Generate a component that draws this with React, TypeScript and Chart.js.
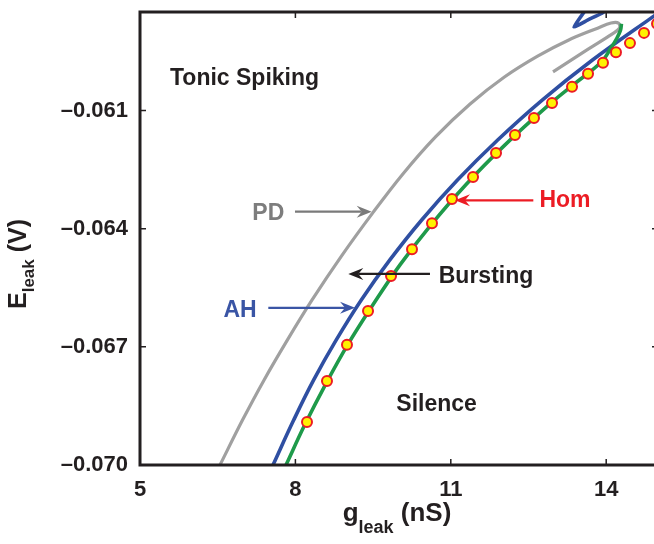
import React, { useEffect, useRef } from "react";
import { Chart, registerables } from "chart.js";

Chart.register(...registerables);

// ---- data (g_leak in nS, E_leak in V) ----
const xTicks = [5, 8, 11, 14];
const xTickLabels = ["5", "8", "11", "14"];
const yTicks = [-0.07, -0.067, -0.064, -0.061];
const yTickLabels = ["\u20130.070", "\u20130.067", "\u20130.064", "\u20130.061"];

const pdCurve: [number, number][] = [
  [6.544, -0.07], [6.979, -0.06886], [7.396, -0.06784], [7.844, -0.06683],
  [8.322, -0.06581], [8.892, -0.06469], [9.504, -0.06358], [10.075, -0.06261],
  [10.705, -0.06167], [11.367, -0.06084], [12.035, -0.06015], [12.676, -0.05962],
  [13.278, -0.05921], [13.834, -0.05891], [14.093, -0.05878], [14.237, -0.05878],
  [14.257, -0.05891], [14.112, -0.05906], [13.629, -0.05946], [12.973, -0.06002],
];

const ahCurve: [number, number][] = [
  [7.568, -0.07], [7.967, -0.06886], [8.353, -0.06784], [8.786, -0.06683],
  [9.272, -0.06581], [9.82, -0.0648], [10.438, -0.06378], [11.133, -0.06276],
  [11.905, -0.06175], [12.77, -0.06073], [13.735, -0.05972], [14.817, -0.0587],
  [15.376, -0.0582],
];

const ahFold: [number, number][] = [
  [13.649, -0.05825], [13.571, -0.0585], [13.378, -0.05888],
  [13.649, -0.0587], [13.919, -0.05853], [14.112, -0.05835],
];

const greenCurve: [number, number][] = [
  [7.819, -0.07], [8.181, -0.06898], [8.575, -0.06797], [9.008, -0.06695],
  [9.494, -0.06594], [10.019, -0.06492], [10.614, -0.06391], [11.286, -0.06289],
  [12.042, -0.06188], [12.892, -0.06086], [13.363, -0.06035], [13.905, -0.05977],
  [14.093, -0.05941], [14.208, -0.05916], [14.276, -0.05896], [14.295, -0.0588],
];

const homPoints: [number, number][] = [
  [8.224, -0.06891], [8.61, -0.06787], [8.996, -0.06695], [9.402, -0.06609],
  [9.846, -0.0652], [10.251, -0.06452], [10.637, -0.06386], [11.023, -0.06325],
  [11.429, -0.06269], [11.873, -0.06208], [12.239, -0.06162], [12.606, -0.06119],
  [12.954, -0.06081], [13.34, -0.0604], [13.649, -0.06007], [13.938, -0.05979],
  [14.189, -0.05952], [14.459, -0.05929], [14.73, -0.05903], [14.981, -0.0588],
];

// ---- styling ----
const FONT = "'Liberation Sans', Arial, Helvetica, sans-serif";
const INK = "#231f20";
const GRAY = "#a0a0a0";
const GRAY_TXT = "#7d7d7d";
const BLUE = "#2f4fa2";
const BLUE_TXT = "#3a55a5";
const GREEN = "#1e9a4a";
const RED = "#ec1c24";
const YELLOW = "#fff200";

const toXY = (a: [number, number][]) => a.map(([x, y]) => ({ x, y }));

function drawArrow(
  ctx: CanvasRenderingContext2D,
  x1: number, y1: number, x2: number, y2: number, color: string
) {
  const ang = Math.atan2(y2 - y1, x2 - x1);
  const c = Math.cos(ang), s = Math.sin(ang);
  const hl = 15, hw = 6, notch = 10;
  const bx = x2 - c * notch, by = y2 - s * notch;
  ctx.save();
  ctx.strokeStyle = color;
  ctx.fillStyle = color;
  ctx.lineWidth = 2.2;
  ctx.beginPath();
  ctx.moveTo(x1, y1);
  ctx.lineTo(bx, by);
  ctx.stroke();
  ctx.beginPath();
  ctx.moveTo(x2, y2);
  ctx.lineTo(x2 - c * hl - s * hw, y2 - s * hl + c * hw);
  ctx.lineTo(bx, by);
  ctx.lineTo(x2 - c * hl + s * hw, y2 - s * hl - c * hw);
  ctx.closePath();
  ctx.fill();
  ctx.restore();
}

// annotation positions in data units
const labels = [
  { text: "Tonic Spiking", x: 5.579, y: -0.06018, color: INK, align: "left" as CanvasTextAlign },
  { text: "Silence", x: 10.726, y: -0.06848, color: INK, align: "center" as CanvasTextAlign },
  { text: "Bursting", x: 11.68, y: -0.06523, color: INK, align: "center" as CanvasTextAlign },
  { text: "PD", x: 7.477, y: -0.06363, color: GRAY_TXT, align: "center" as CanvasTextAlign },
  { text: "AH", x: 6.931, y: -0.06609, color: BLUE_TXT, align: "center" as CanvasTextAlign },
  { text: "Hom", x: 13.205, y: -0.06328, color: RED, align: "center" as CanvasTextAlign },
];

const arrows = [
  { x1: 7.992, y1: -0.06357, x2: 9.473, y2: -0.06357, color: "#7a7a7a" },
  { x1: 7.477, y1: -0.06601, x2: 9.151, y2: -0.06601, color: BLUE_TXT },
  { x1: 10.598, y1: -0.06515, x2: 9.021, y2: -0.06515, color: INK },
  { x1: 12.593, y1: -0.06328, x2: 11.081, y2: -0.06328, color: RED },
];

const decorPlugin = {
  id: "decor",
  afterDatasetsDraw(chart: any) {
    const { ctx, chartArea: a, scales } = chart;
    const xs = scales.x, ys = scales.y;
    ctx.save();
    // frame
    ctx.strokeStyle = INK;
    ctx.lineWidth = 3;
    ctx.strokeRect(a.left, a.top, a.right - a.left, a.bottom - a.top);
    // inward ticks
    ctx.lineWidth = 1.5;
    ctx.beginPath();
    for (const v of xTicks) {
      const px = xs.getPixelForValue(v);
      ctx.moveTo(px, a.bottom); ctx.lineTo(px, a.bottom - 6);
      ctx.moveTo(px, a.top); ctx.lineTo(px, a.top + 6);
    }
    for (const v of yTicks) {
      const py = ys.getPixelForValue(v);
      ctx.moveTo(a.left, py); ctx.lineTo(a.left + 6, py);
      ctx.moveTo(a.right, py); ctx.lineTo(a.right - 6, py);
    }
    ctx.stroke();

    // text labels
    ctx.font = `bold 23px ${FONT}`;
    ctx.textBaseline = "middle";
    for (const l of labels) {
      ctx.fillStyle = l.color;
      ctx.textAlign = l.align;
      ctx.fillText(l.text, xs.getPixelForValue(l.x), ys.getPixelForValue(l.y));
    }
    for (const ar of arrows) {
      drawArrow(ctx,
        xs.getPixelForValue(ar.x1), ys.getPixelForValue(ar.y1),
        xs.getPixelForValue(ar.x2), ys.getPixelForValue(ar.y2), ar.color);
    }

    // x axis title: g_leak (nS)
    ctx.fillStyle = INK;
    ctx.textAlign = "left";
    ctx.textBaseline = "alphabetic";
    const big = `bold 26px ${FONT}`, small = `bold 18px ${FONT}`;
    ctx.font = big; const wG = ctx.measureText("g").width;
    ctx.font = small; const wL = ctx.measureText("leak").width;
    ctx.font = big; const wR = ctx.measureText(" (nS)").width;
    const total = wG + wL + wR;
    const x0 = (a.left + a.right) / 2 - total / 2 - 2;
    const base = 521;
    ctx.font = big; ctx.fillText("g", x0, base);
    ctx.font = small; ctx.fillText("leak", x0 + wG, base + 12);
    ctx.font = big; ctx.fillText(" (nS)", x0 + wG + wL, base);

    // y axis title: E_leak (V)
    const bigY = `bold 25px ${FONT}`, smallY = `bold 17px ${FONT}`;
    ctx.translate(26, 264);
    ctx.rotate(-Math.PI / 2);
    ctx.font = bigY; const wE = ctx.measureText("E").width;
    ctx.font = smallY; const wL2 = ctx.measureText("leak").width;
    ctx.font = bigY; const wV = ctx.measureText(" (V)").width;
    const t2 = wE + wL2 + wV;
    const s0 = -t2 / 2;
    ctx.font = bigY; ctx.fillText("E", s0, 0);
    ctx.font = smallY; ctx.fillText("leak", s0 + wE, 8);
    ctx.font = bigY; ctx.fillText(" (V)", s0 + wE + wL2, 0);
    ctx.restore();
  },
};

const zeroPad = (s: any) => {
  s.paddingTop = 0; s.paddingBottom = 0; s.paddingLeft = 0; s.paddingRight = 0;
};

export default function App() {
  const ref = useRef<HTMLCanvasElement | null>(null);
  useEffect(() => {
    if (!ref.current) return;
    const line = (data: [number, number][], color: string, width: number, tension = 0.4) => ({
      data: toXY(data),
      showLine: true,
      borderColor: color,
      backgroundColor: color,
      borderWidth: width,
      pointRadius: 0,
      pointHoverRadius: 0,
      tension,
      borderCapStyle: "butt" as const,
      borderJoinStyle: "round" as const,
    });
    const chart = new Chart(ref.current, {
      type: "scatter",
      data: {
        datasets: [
          {
            label: "Hom",
            data: toXY(homPoints),
            showLine: false,
            pointRadius: 5,
            pointBorderWidth: 2,
            pointBackgroundColor: YELLOW,
            pointBorderColor: RED,
            pointHoverRadius: 5,
          },
          { label: "Bursting edge", ...line(greenCurve, GREEN, 3.6) },
          { label: "AH", ...line(ahCurve, BLUE, 3.6) },
          { label: "AH fold", ...line(ahFold, BLUE, 3.6, 0.15) },
          { label: "PD", ...line(pdCurve, GRAY, 3.2, 0.35) },
        ],
      },
      options: {
        responsive: false,
        animation: false,
        devicePixelRatio: 1,
        layout: { padding: { top: 12, right: 12, left: 0, bottom: 0 } },
        plugins: { legend: { display: false }, tooltip: { enabled: false } },
        events: [],
        scales: {
          x: {
            type: "linear",
            min: 5,
            max: 15,
            afterFit: (s: any) => { s.height = 79; zeroPad(s); },
            afterBuildTicks: (s: any) => { s.ticks = xTicks.map((v) => ({ value: v })); },
            grid: { display: false, drawTicks: false },
            border: { display: false },
            ticks: {
              padding: 12,
              color: INK,
              font: { family: FONT, size: 22, weight: "bold" },
              maxRotation: 0,
              callback: (v: any) => {
                const i = xTicks.indexOf(Number(v));
                return i >= 0 ? xTickLabels[i] : "";
              },
            },
          },
          y: {
            type: "linear",
            min: -0.07,
            max: -0.0585,
            afterFit: (s: any) => { s.width = 140; zeroPad(s); },
            afterBuildTicks: (s: any) => { s.ticks = yTicks.map((v) => ({ value: v })); },
            grid: { display: false, drawTicks: false },
            border: { display: false },
            ticks: {
              padding: 12,
              color: INK,
              font: { family: FONT, size: 22, weight: "bold" },
              callback: (v: any) => {
                let best = 0;
                yTicks.forEach((t, i) => { if (Math.abs(t - Number(v)) < Math.abs(yTicks[best] - Number(v))) best = i; });
                return yTickLabels[best];
              },
            },
          },
        },
      },
      plugins: [decorPlugin],
    });
    return () => chart.destroy();
  }, []);
  return (
    <div style={{ position: "fixed", left: 0, top: 0, width: 654, height: 544, overflow: "hidden", background: "#fff" }}>
      <canvas ref={ref} width={670} height={544} style={{ display: "block", width: 670, height: 544 }} />
    </div>
  );
}
